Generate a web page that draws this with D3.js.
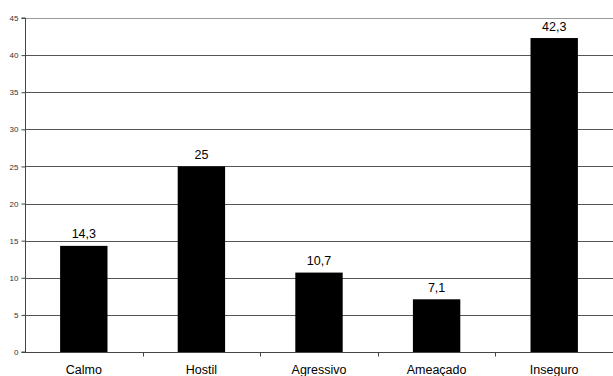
<!DOCTYPE html>
<html>
<head>
<meta charset="utf-8">
<script src="https://cdn.jsdelivr.net/npm/d3@7/dist/d3.min.js"></script>
<style>
  html, body { margin: 0; padding: 0; background: #fff; }
  svg { display: block; }
</style>
</head>
<body>
<svg id="chart" width="613" height="376"></svg>
<script>
const categories = ["Calmo", "Hostil", "Agressivo", "Ameaçado", "Inseguro"];
const values = [14.3, 25, 10.7, 7.1, 42.3];
const yTicks = [0, 5, 10, 15, 20, 25, 30, 35, 40, 45];

const W = 613, H = 376;
const m = { top: 18, right: 0, bottom: 24, left: 25 };

const svg = d3.select("#chart");

const x = d3.scaleBand().domain(categories).range([m.left, W - m.right]).padding(0);
const y = d3.scaleLinear().domain([0, 45]).range([H - m.bottom, m.top]);

const fmt = v => String(v).replace(".", ",");

// horizontal gridlines
svg.append("g").selectAll("line").data(yTicks.filter(t => t > 0)).join("line")
  .attr("x1", m.left).attr("x2", W - m.right)
  .attr("y1", d => Math.round(y(d)) + 0.5).attr("y2", d => Math.round(y(d)) + 0.5)
  .attr("stroke", d => d === 45 ? "#999" : "#555")
  .attr("stroke-width", 1);

// y axis
const yAxis = svg.append("g")
  .attr("transform", `translate(${m.left + 0.5},0)`)
  .call(d3.axisLeft(y).tickValues(yTicks).tickSize(4).tickPadding(3).tickFormat(d3.format("d")));
yAxis.select(".domain").attr("stroke", "#444").attr("d", `M-4,${y(0)}H0V${y(45)}H-4`);
yAxis.selectAll(".tick line").attr("stroke", "#444");
yAxis.selectAll(".tick text")
  .attr("font-family", "Liberation Sans, Arial, sans-serif")
  .attr("font-size", 8).attr("fill", "#333");

// x axis with tick marks at category boundaries
const xAxisY = Math.round(y(0)) + 0.5;
svg.append("line")
  .attr("x1", m.left).attr("x2", W - m.right)
  .attr("y1", xAxisY).attr("y2", xAxisY)
  .attr("stroke", "#444");
svg.append("g").selectAll("line").data(categories.slice(1)).join("line")
  .attr("x1", d => Math.round(x(d)) + 0.5).attr("x2", d => Math.round(x(d)) + 0.5)
  .attr("y1", xAxisY).attr("y2", xAxisY + 4)
  .attr("stroke", "#444");

// bars
const barW = x.bandwidth() * 0.403;
svg.append("g").selectAll("rect").data(categories).join("rect")
  .attr("x", (d, i) => x(d) + (x.bandwidth() - barW) / 2)
  .attr("width", barW)
  .attr("y", (d, i) => y(values[i]))
  .attr("height", (d, i) => y(0) - y(values[i]))
  .attr("fill", "#000");

// value labels
svg.append("g").selectAll("text").data(categories).join("text")
  .attr("x", d => x(d) + x.bandwidth() / 2)
  .attr("y", (d, i) => y(values[i]) - 7.5)
  .attr("text-anchor", "middle")
  .attr("font-family", "Liberation Sans, Arial, sans-serif")
  .attr("font-size", 12.5).attr("fill", "#000")
  .text((d, i) => fmt(values[i]));

// category labels
svg.append("g").selectAll("text").data(categories).join("text")
  .attr("x", d => x(d) + x.bandwidth() / 2)
  .attr("y", H - 2)
  .attr("text-anchor", "middle")
  .attr("font-family", "Liberation Sans, Arial, sans-serif")
  .attr("font-size", 12.5).attr("fill", "#000")
  .text(d => d);
</script>
</body>
</html>
